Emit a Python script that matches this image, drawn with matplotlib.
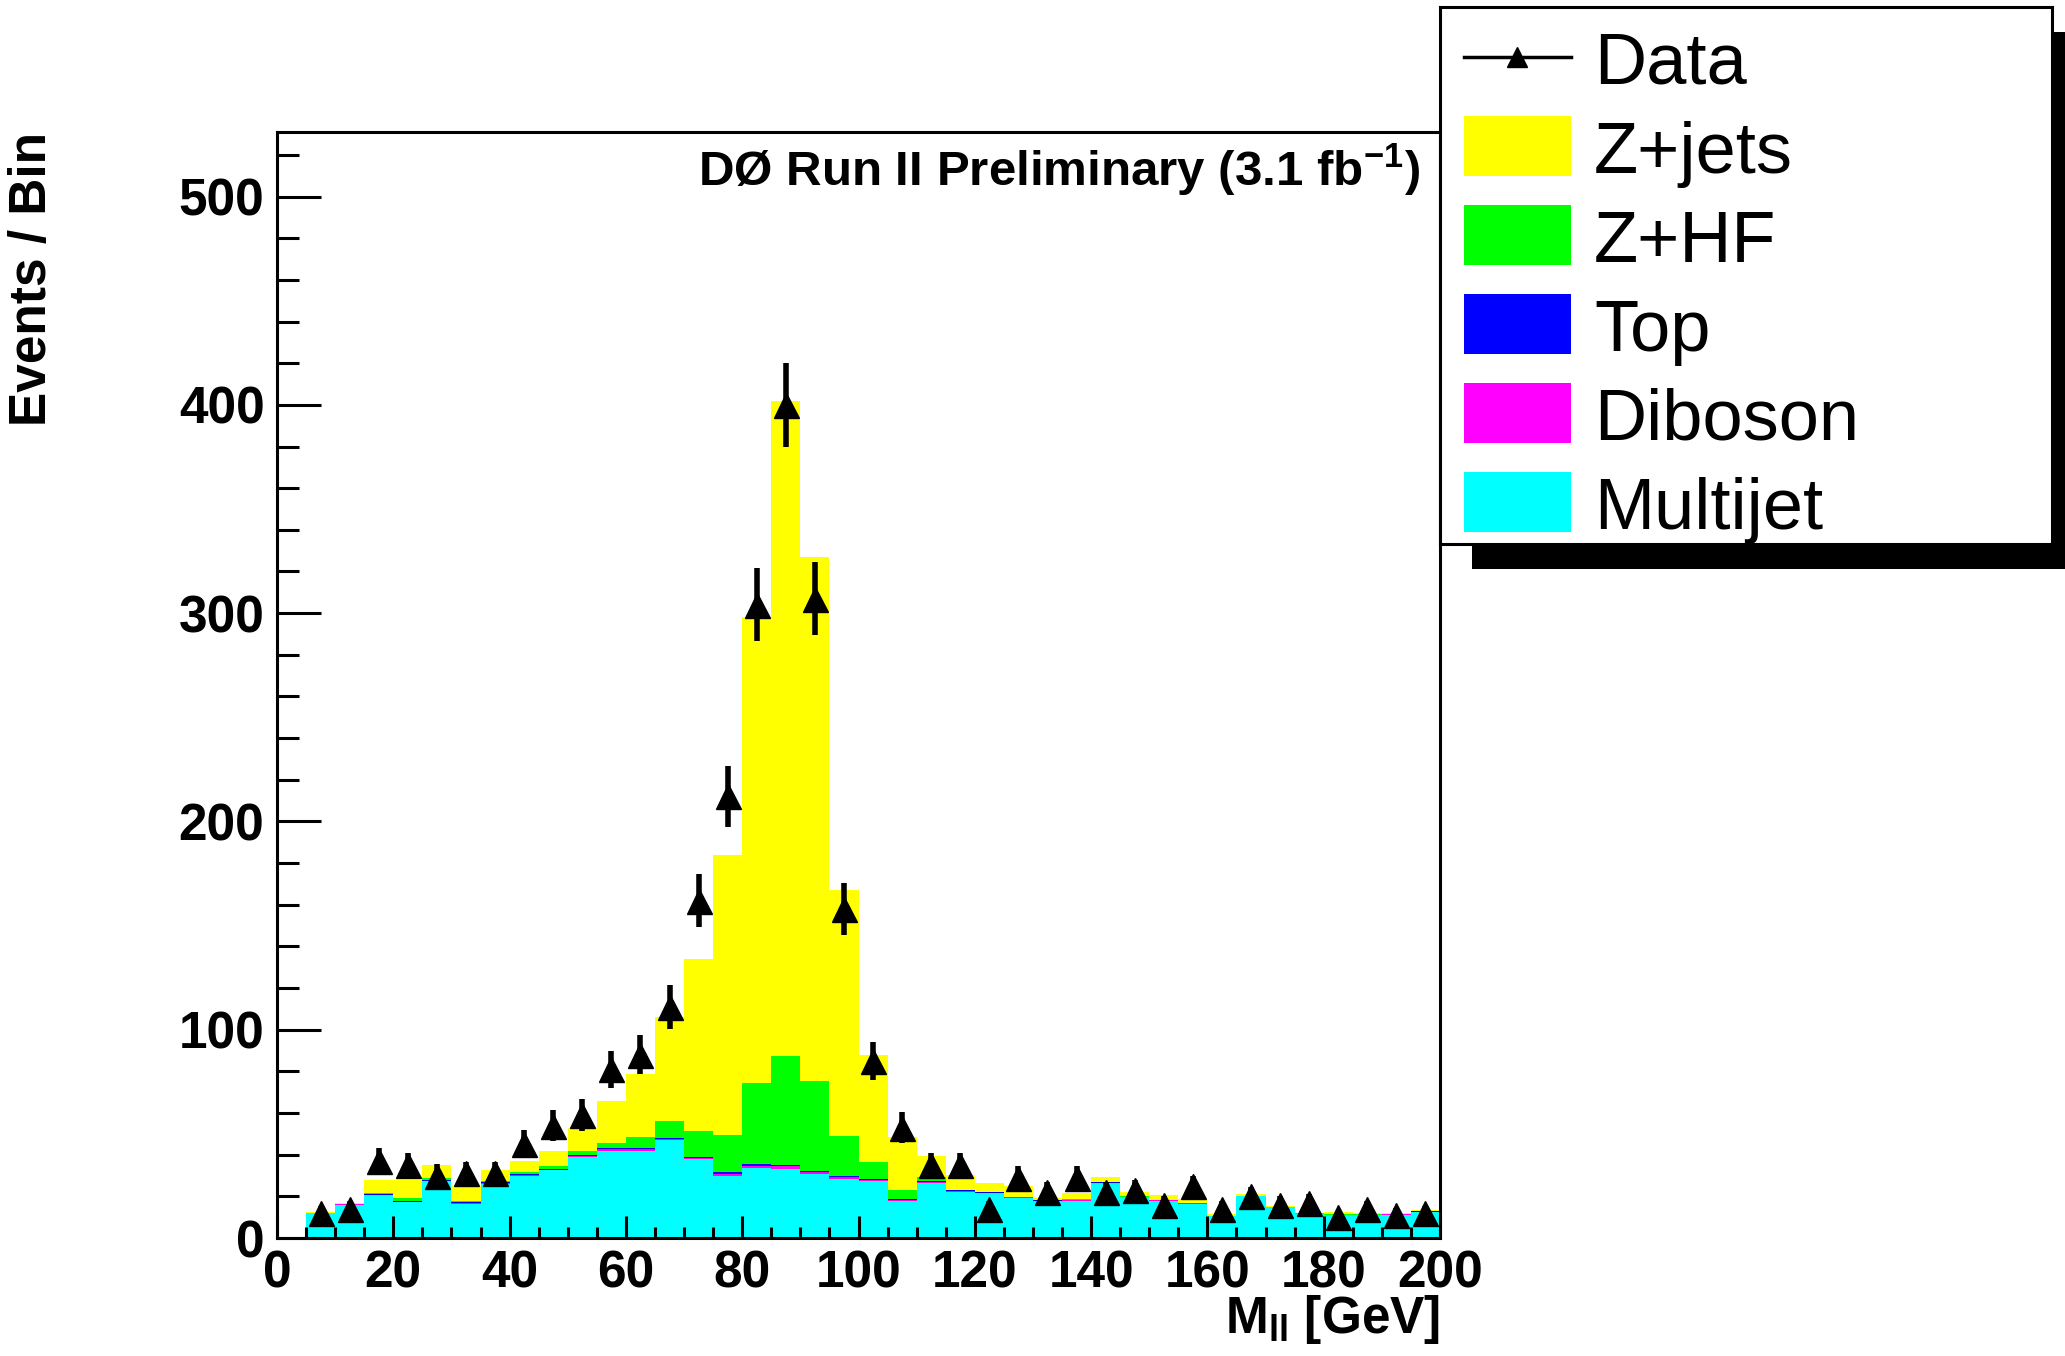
import matplotlib
matplotlib.use("Agg")
import matplotlib.pyplot as plt
import numpy as np
from matplotlib.patches import Rectangle
from matplotlib.ticker import MultipleLocator

plt.rcParams["font.family"] = ["Liberation Sans", "DejaVu Sans"]
plt.rcParams["font.weight"] = "bold"
plt.rcParams["axes.labelweight"] = "bold"
plt.rcParams["mathtext.fontset"] = "custom"
plt.rcParams["mathtext.rm"] = "Liberation Sans:bold"
plt.rcParams["mathtext.bf"] = "Liberation Sans:bold"
plt.rcParams["mathtext.it"] = "Liberation Sans:bold"

# -- Data ---------------------------------------------------------------------
# 5 GeV bins from 5 to 200 GeV
bin_edges = np.arange(5, 205, 5)
bin_centers = bin_edges[:-1] + 2.5

data = [12, 14, 37, 35, 30, 31, 31, 45, 54, 59, 81, 88, 111, 162, 212, 304,
        400, 307, 158, 85, 53, 35, 35, 14, 29, 22, 29, 22, 23, 16, 25, 14,
        20, 16, 17, 10, 14, 11, 12]

multijet = [12.0, 16.0, 20.5, 17.3, 27.4, 16.5, 26.0, 29.8, 32.5, 38.9, 42.0,
            42.0, 47.0, 37.8, 30.0, 33.5, 33.0, 30.5, 28.5, 27.3, 18.0, 26.4,
            22.3, 21.5, 19.2, 17.6, 17.9, 26.4, 19.5, 17.9, 16.5, 10.4, 20.0,
            14.7, 11.5, 10.9, 10.9, 11.2, 12.5]
diboson = [0.1, 0.1, 0.2, 0.2, 0.2, 0.2, 0.3, 0.3, 0.3, 0.4, 0.5, 0.5, 0.6,
           0.7, 0.9, 1.3, 1.6, 1.2, 0.8, 0.6, 0.4, 0.4, 0.3, 0.3, 0.3, 0.2,
           0.2, 0.2, 0.2, 0.2, 0.2, 0.1, 0.1, 0.1, 0.1, 0.1, 0.1, 0.1, 0.1]
top = [0.1, 0.1, 0.3, 0.3, 0.3, 0.4, 0.4, 0.5, 0.5, 0.5, 0.6, 0.6, 0.6, 0.6,
       0.6, 0.5, 0.5, 0.5, 0.5, 0.5, 0.4, 0.4, 0.4, 0.3, 0.3, 0.3, 0.3, 0.3,
       0.2, 0.2, 0.2, 0.2, 0.2, 0.1, 0.1, 0.2, 0.2, 0.2, 0.2]
z_hf = [0.0, 0.1, 0.8, 1.6, 1.1, 0.7, 0.7, 1.3, 1.3, 2.0, 2.7, 5.5, 8.0, 12.3,
        18.1, 39.2, 52.4, 43.0, 19.2, 8.1, 4.4, 2.1, 0.2, 0.1, 0.1, 0.1, 0.1,
        0.1, 0.1, 0.1, 0.1, 0.1, 0.1, 0.1, 0.1, 0.1, 0.1, 0.1, 0.1]
z_jets = [0.3, 0.7, 6.2, 8.6, 6.0, 7.2, 5.3, 5.1, 7.4, 10.8, 20.2, 30.1, 49.8,
          82.6, 134.4, 223.5, 314.5, 251.8, 118.0, 51.5, 25.1, 10.2, 7.2, 4.2,
          5.1, 0.9, 3.0, 2.2, 2.1, 2.3, 1.6, 0.6, 0.9, 0.3, 0.3, 1.1, 0.8,
          0.5, 0.7]

# stacking order, bottom to top
stack = [
    ("Multijet", multijet, "#00ffff"),
    ("Diboson", diboson, "#ff00ff"),
    ("Top", top, "#0000ff"),
    ("Z+HF", z_hf, "#00ff00"),
    ("Z+jets", z_jets, "#ffff00"),
]
legend_order = ["Z+jets", "Z+HF", "Top", "Diboson", "Multijet"]

# -- Figure -------------------------------------------------------------------
W, H = 2065, 1356
fig = plt.figure(figsize=(W / 100, H / 100), dpi=100)
ax = fig.add_axes([277 / W, 1 - 1238 / H, (1440 - 277) / W, (1238 - 132) / H])

base = np.zeros(len(multijet))
for name, vals, color in stack:
    upper = base + np.array(vals)
    ax.stairs(upper, bin_edges, baseline=base, fill=True, color=color,
              linewidth=0)
    base = upper

data = np.array(data, dtype=float)
ax.errorbar(bin_centers, data, yerr=np.sqrt(data), fmt="^", color="black",
            ms=18, elinewidth=4, capsize=0, zorder=5)

ax.set_xlim(0, 200)
ax.set_ylim(0, 531)
ax.xaxis.set_major_locator(MultipleLocator(20))
ax.xaxis.set_minor_locator(MultipleLocator(5))
ax.yaxis.set_major_locator(MultipleLocator(100))
ax.yaxis.set_minor_locator(MultipleLocator(20))
ax.tick_params(which="both", direction="in", width=2.2, labelsize=37)
ax.tick_params(axis="y", which="major", length=32, pad=9)
ax.tick_params(axis="y", which="minor", length=16)
ax.tick_params(axis="x", which="major", length=16, pad=8)
ax.tick_params(axis="x", which="minor", length=8)
for sp in ax.spines.values():
    sp.set_linewidth(2.2)

ax.set_xlabel(r"M$_{\mathbf{ll}}$ [GeV]", fontsize=37, fontweight="bold",
              ha="right")
ax.xaxis.set_label_coords(1.0, -0.074)
ax.xaxis.label.set_va("center")

fig.text(33 / W, 1 - 132 / H, "Events / Bin", rotation=90, ha="center",
         va="top", fontsize=37)

ax.text(0.983, 0.965, r"DØ Run II Preliminary (3.1 fb$^{-1}$)",
        transform=ax.transAxes, ha="right", va="center", fontsize=35.5)

# -- Legend box (ROOT style with hard shadow) ---------------------------------
box = (1440, 7, 2052, 544)
shadow = Rectangle(((box[0] + 32) / W, 1 - (box[3] + 25) / H),
                   (box[2] - box[0]) / W, (box[3] - box[1]) / H,
                   transform=fig.transFigure, facecolor="black",
                   edgecolor="none", zorder=-1)
fig.add_artist(shadow)

lax = fig.add_axes([box[0] / W, 1 - box[3] / H, (box[2] - box[0]) / W,
                    (box[3] - box[1]) / H])
lax.set_xlim(box[0], box[2])
lax.set_ylim(box[3], box[1])
lax.set_xticks([])
lax.set_yticks([])
for sp in lax.spines.values():
    sp.set_linewidth(2.2)

row_y = 57
lax.plot([1464, 1571], [row_y, row_y], color="black", lw=2.5)
lax.plot([1517], [row_y], marker="^", color="black", ms=14)
lax.text(1594, row_y + 27, "Data", fontsize=52, fontweight="normal",
         va="baseline")
colors = {name: color for name, _, color in stack}
for i, name in enumerate(legend_order):
    y = row_y + 89 * (i + 1)
    lax.add_patch(Rectangle((1464, y - 30), 107, 60, facecolor=colors[name],
                            edgecolor="none"))
    lax.text(1594, y + 27, name, fontsize=52, fontweight="normal",
             va="baseline")

fig.savefig("out.png", dpi=100)
